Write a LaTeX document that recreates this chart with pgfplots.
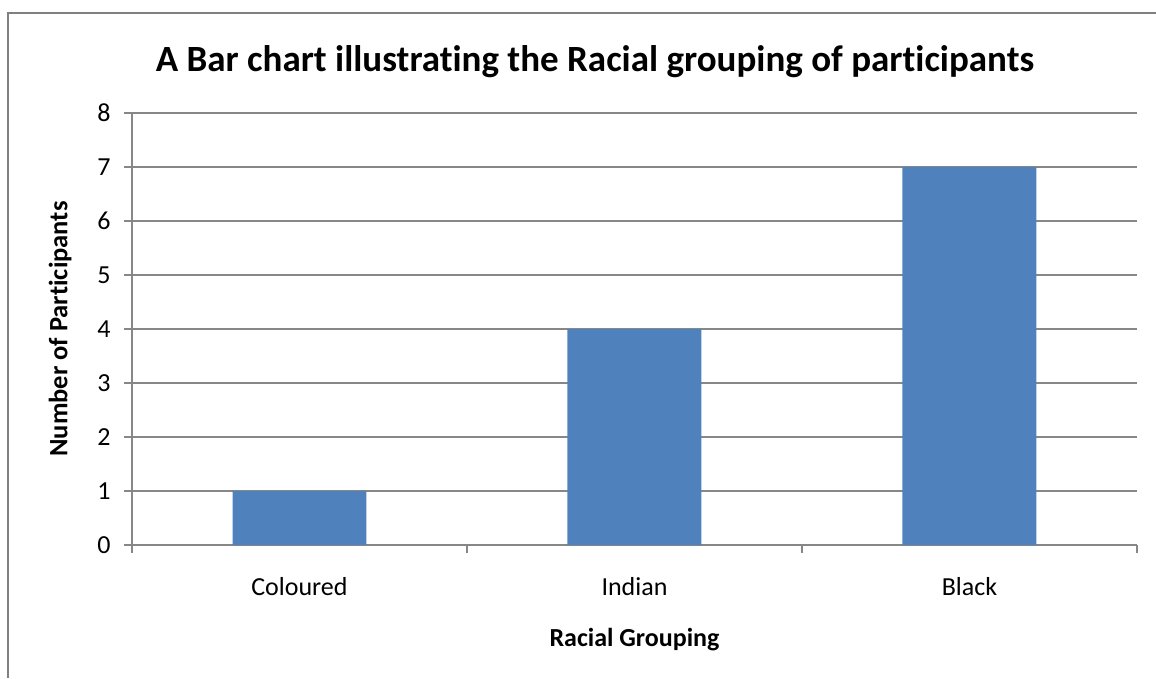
\documentclass[border=0pt]{standalone}
\usepackage{fontspec}
\setmainfont{Carlito}[Ligatures=NoCommon]
\usepackage{pgfplots}
\pgfplotsset{compat=1.18}
\definecolor{barblue}{HTML}{4F81BD}
\definecolor{gridgray}{HTML}{878787}
\definecolor{framegray}{HTML}{808080}
\begin{document}
\begin{tikzpicture}[x=1pt,y=1pt]
\useasboundingbox (0,0) rectangle (1156,678);
% chart frame (right and bottom edges are cut off in the reference)
\draw[framegray, line width=2pt] (8,0) -- (8,665) -- (1156,665);
\begin{axis}[
    at={(132pt,133pt)}, anchor=south west,
    scale only axis, width=1005pt, height=432pt,
    xmin=0.5, xmax=3.5, ymin=0, ymax=8,
    xtick={1,2,3},
    xticklabels={Coloured, Indian, Black},
    minor xtick={0.5,1.5,2.5,3.5},
    ytick={0,1,...,8},
    axis x line*=bottom, axis y line*=left,
    axis line style={gridgray, line width=1.2pt, -},
    ymajorgrids, grid style={gridgray, line width=1.2pt},
    tick align=outside,
    major tick length=8pt, minor tick length=8pt,
    x tick style={draw=none},
    minor x tick style={draw=gridgray, line width=1.2pt},
    y tick style={gridgray, line width=1.2pt},
    /pgf/number format/assume math mode=true,
    tick label style={font=\fontsize{26}{31}\selectfont, text=black},
    yticklabel style={anchor=east, xshift=-10pt},
    xticklabel style={anchor=base, yshift=-42pt},
    title={A Bar chart illustrating the Racial grouping of participants},
    title style={font=\fontsize{37}{44}\selectfont\bfseries, anchor=base,
        at={(axis description cs:0.4607,1.0833)}},
    xlabel={Racial Grouping},
    xlabel style={font=\fontsize{26}{31}\selectfont\bfseries, anchor=center,
        at={(axis description cs:0.5,-0.22)}},
    ylabel={Number of Participants},
    ylabel style={font=\fontsize{26.5}{32}\selectfont\bfseries, anchor=center,
        at={(axis description cs:-0.0716,0.5)}},
]
\addplot[ybar, bar width=0.4, fill=barblue, draw=none] coordinates {
    (1,1) (2,4) (3,7)
};
\end{axis}
\end{tikzpicture}
\end{document}
